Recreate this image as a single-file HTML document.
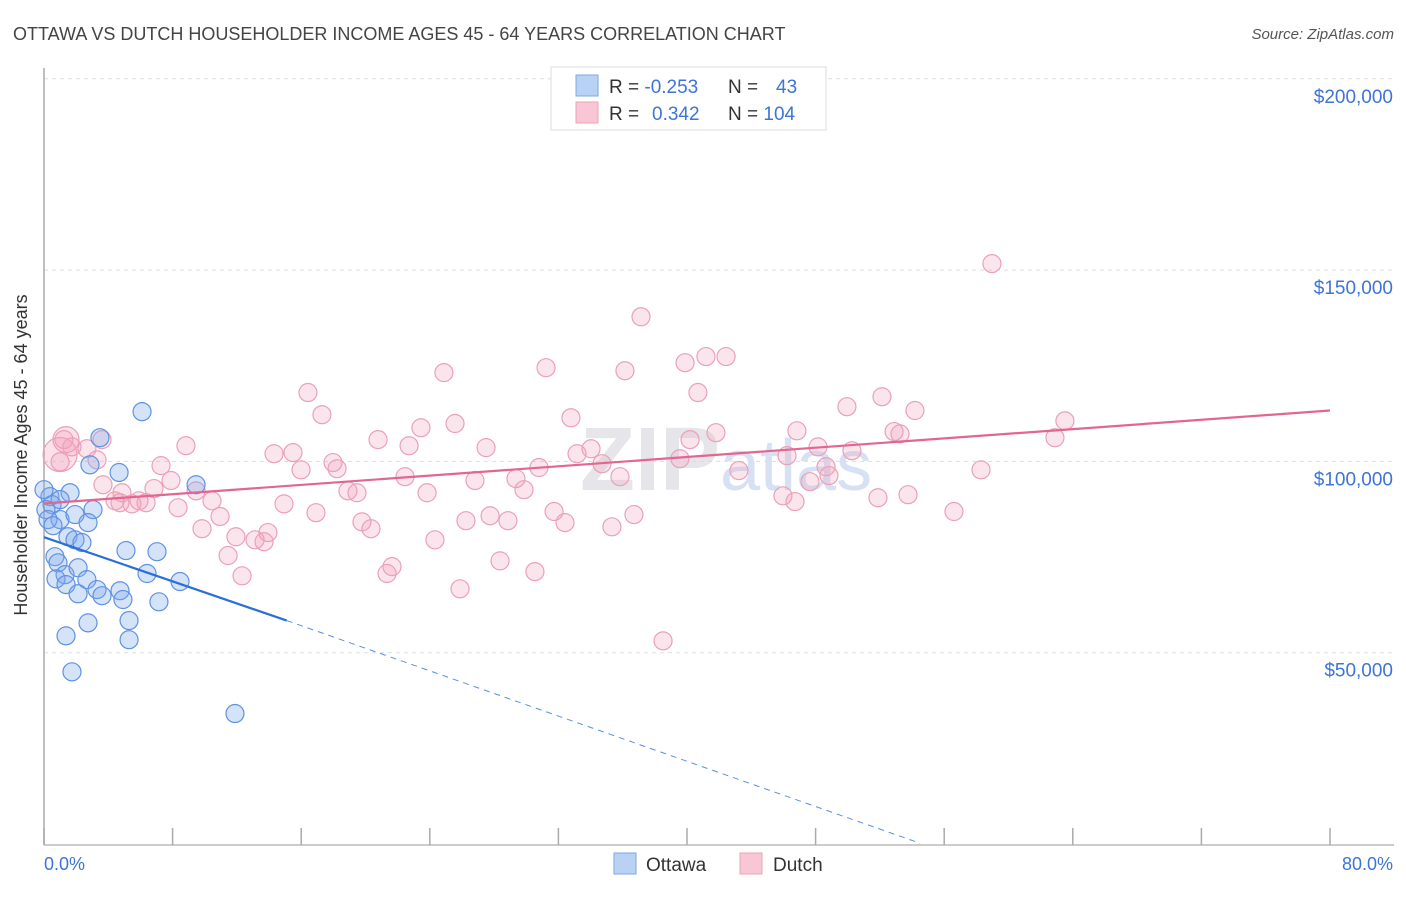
<!DOCTYPE html>
<html><head><meta charset="utf-8"><style>
body{margin:0;background:#fff;font-family:"Liberation Sans",sans-serif;}
svg text{font-family:"Liberation Sans",sans-serif;}
</style></head><body>
<svg id="chart" width="1406" height="892" xmlns="http://www.w3.org/2000/svg">
<text x="13" y="40" font-size="18" fill="#444">OTTAWA VS DUTCH HOUSEHOLDER INCOME AGES 45 - 64 YEARS CORRELATION CHART</text>
<text x="1394" y="39" font-size="15" fill="#555" font-style="italic" text-anchor="end">Source: ZipAtlas.com</text>
<text x="720" y="490" font-size="90" font-weight="bold" fill="#e6e6ea" text-anchor="end">ZIP</text>
<text x="720" y="490" font-size="72" fill="#d6e2f4">atlas</text>
<g id="grid"></g>
<line x1="44" y1="68" x2="44" y2="845" stroke="#aaa" stroke-width="1.5"/>
<line x1="44" y1="845" x2="1394" y2="845" stroke="#bbb" stroke-width="1.5"/>
<g id="xticks"></g>
<text x="27" y="455" font-size="18" fill="#333" text-anchor="middle" transform="rotate(-90 27 455)">Householder Income Ages 45 - 64 years</text>
<text x="44" y="870" font-size="18" fill="#3d74d6">0.0%</text>
<text x="1393" y="870" font-size="18" fill="#3d74d6" text-anchor="end">80.0%</text>
<g id="dots"></g>
<g id="lines"></g>
<g>
<rect x="551" y="67" width="275" height="63" fill="#fff" stroke="#ddd"/>
<rect x="576" y="75" width="22" height="21" fill="#b8d2f4" stroke="#7ea7e6"/>
<rect x="576" y="102" width="22" height="21" fill="#f9c6d5" stroke="#eea3b9"/>
<text x="609" y="93" font-size="19" fill="#333">R = <tspan fill="#3d74d6">-0.253</tspan></text>
<text x="728" y="93" font-size="19" fill="#333">N = <tspan x="776" fill="#3d74d6">43</tspan></text>
<text x="609" y="120" font-size="19" fill="#333">R = <tspan x="652" fill="#3d74d6">0.342</tspan></text>
<text x="728" y="120" font-size="19" fill="#333">N = <tspan fill="#3d74d6">104</tspan></text>
</g>
<g>
<rect x="614" y="853" width="22" height="21" fill="#b8d2f4" stroke="#7ea7e6"/>
<text x="646" y="871" font-size="19" fill="#333">Ottawa</text>
<rect x="740" y="853" width="22" height="21" fill="#f9c6d5" stroke="#eea3b9"/>
<text x="773" y="871" font-size="19" fill="#333">Dutch</text>
</g>
</svg>
<script>
const yTicks=[50000,100000,150000,200000];
const yTickLabels=["$50,000","$100,000","$150,000","$200,000"];
const xTicks=[0,8,16,24,32,40,48,56,64,72,80];
const ottawaX=[6.10,3.48,2.86,4.67,9.46,1.62,0.37,0.50,1.0,1.93,3.05,2.74,1.49,1.93,2.36,5.10,7.03,0.68,0.87,1.31,2.12,6.41,0.75,2.67,1.37,3.30,2.12,3.61,4.73,4.91,7.15,8.46,2.74,5.29,1.37,5.29,1.74,11.88,0.12,0.25,1.0,0.56,0];
const ottawaY=[113000,106200,99100,97100,93900,91800,90800,88700,84800,86100,87400,84000,80300,79500,78800,76700,76400,75100,73500,70400,72200,70700,69300,69100,67800,66500,65400,64900,66200,63900,63300,68600,57800,58400,54400,53400,45000,34100,87400,84800,90000,83200,92600];
const dutchX=[58.97,37.14,31.23,36.14,24.88,39.88,41.18,42.43,16.42,40.68,17.29,32.78,25.57,23.45,52.13,49.95,54.18,63.51,20.78,8.83,40.19,41.80,46.84,52.88,53.25,62.89,22.71,27.50,34.03,14.31,15.49,33.16,3.61,1.24,1.74,2.67,1.0,3.30,7.28,17.98,18.23,15.99,30.79,34.71,39.56,43.23,46.22,48.15,50.26,48.65,48.83,58.29,22.46,26.81,29.36,29.86,35.83,7.90,3.67,4.85,6.84,9.46,18.91,19.47,23.83,47.65,4.73,5.47,6.35,4.42,5.91,8.34,10.45,14.93,45.97,46.72,51.88,53.75,56.61,31.73,16.92,19.78,26.25,27.75,28.86,32.41,36.70,35.33,10.95,9.83,20.34,11.94,13.13,13.69,13.93,24.32,11.45,12.32,21.34,21.65,28.37,30.54,25.88,38.51];
const dutchY=[151.7,137.8,124.5,123.7,123.2,125.8,127.4,127.4,118.0,118.0,112.2,111.4,109.9,108.8,116.9,114.3,113.3,110.6,105.7,104.1,105.7,107.5,108.0,107.8,107.2,106.2,104.1,103.6,103.3,102.0,102.3,102.0,105.7,105.7,103.8,103.3,99.9,100.4,98.9,99.7,98.1,97.8,98.4,99.4,100.7,97.6,101.5,103.8,102.8,98.6,96.3,97.8,96.0,95.0,95.5,92.6,96.0,95.0,93.9,91.8,92.9,92.3,92.3,91.8,91.8,94.7,89.2,88.9,89.2,89.7,89.7,87.9,89.7,88.9,91.0,89.5,90.5,91.3,86.9,86.9,86.6,84.2,84.5,85.8,84.5,84.0,86.1,82.9,85.6,82.4,82.4,80.3,79.5,79.0,81.4,79.5,75.4,70.1,70.7,72.5,74.0,71.2,66.7,53.1].map(v=>v*1000);
const dutchBigX=[1.0,1.37];
const dutchBigY=[101800,105700];
const ottawaLine=[0,80200,15.1,58400];
const ottawaDash=[15.1,58400,54.5,200];
const dutchLine=[0,89000,80,113300];

const NS="http://www.w3.org/2000/svg";
const sx=p=>44+p*1286/80;
const sy=v=>844-v*191.3/50000;
function mk(tag,attrs,parent){const e=document.createElementNS(NS,tag);for(const k in attrs)e.setAttribute(k,attrs[k]);parent.appendChild(e);return e;}
const grid=document.getElementById('grid');
yTicks.forEach((t,i)=>{
 const l=mk('line',{x1:44,x2:1394,y1:sy(t),y2:sy(t),stroke:'#ddd','stroke-dasharray':'4,4'},grid);
 
 
 const tx=mk('text',{x:1393,y:sy(t)+24,'font-size':19,fill:'#3d74d6','text-anchor':'end'},grid);
 tx.textContent=yTickLabels[i];
 
 
});
const xt=document.getElementById('xticks');
xTicks.forEach(t=>{
 const l=mk('line',{x1:sx(t),x2:sx(t),y1:828,y2:845,stroke:'#aaa','stroke-width':1.5},xt);
 
 
});
const dots=document.getElementById('dots');
dutchX.forEach((x,i)=>{
 const c=mk('circle',{cx:sx(x),cy:sy(dutchY[i]),r:9,fill:'rgba(242,160,186,0.28)',stroke:'#eba0b8','stroke-width':1.2},dots);
 
 
});
dutchBigX.forEach((x,i)=>{
 const c=mk('circle',{cx:sx(x),cy:sy(dutchBigY[i]),r:i==0?17:13,fill:'rgba(242,160,186,0.3)',stroke:'#eba0b8','stroke-width':1.2},dots);
 
 
});
ottawaX.forEach((x,i)=>{
 const c=mk('circle',{cx:sx(x),cy:sy(ottawaY[i]),r:9,fill:'rgba(125,168,236,0.32)',stroke:'#5f92e2','stroke-width':1.2},dots);
 
 
});
const lines=document.getElementById('lines');
let l1=mk('line',{x1:sx(dutchLine[0]),y1:sy(dutchLine[1]),x2:sx(dutchLine[2]),y2:sy(dutchLine[3]),stroke:'#e2668f','stroke-width':2.2},lines);


let l2=mk('line',{x1:sx(ottawaLine[0]),y1:sy(ottawaLine[1]),x2:sx(ottawaLine[2]),y2:sy(ottawaLine[3]),stroke:'#2a6fd6','stroke-width':2.2},lines);


let l3=mk('line',{x1:sx(ottawaDash[0]),y1:sy(ottawaDash[1]),x2:sx(ottawaDash[2]),y2:sy(ottawaDash[3]),stroke:'#5b8fe0','stroke-width':1,'stroke-dasharray':'6,5'},lines);


</script>
</body></html>
